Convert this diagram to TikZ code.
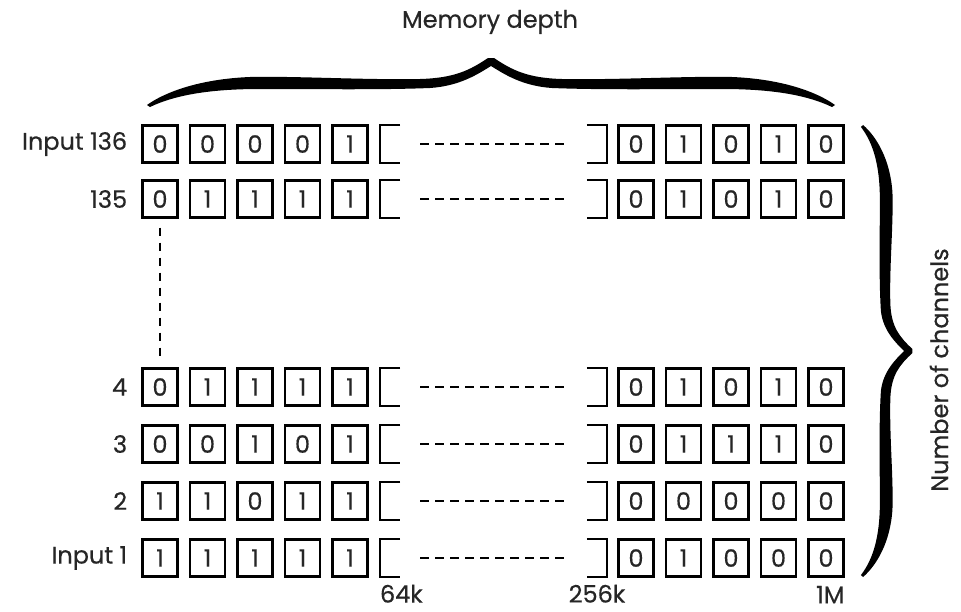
\documentclass[tikz,border=0pt]{standalone}
\usepackage{fontspec}
\setmainfont{Poppins}[FakeBold=0.5]
\usetikzlibrary{positioning}

\begin{document}
\begin{tikzpicture}[x=1pt,y=-1pt,
  every node/.style={inner sep=0pt,text=black!85,font=\fontsize{24}{28}\selectfont},
  bit/.style={draw=black,line width=2.3pt,minimum width=35pt,minimum height=37pt,font=\fontsize{24}{28}\selectfont},
  gapbox/.style={minimum width=20pt,minimum height=37pt},
  bracket/.style={line width=2.3pt},
  dots/.style={line width=2.6pt,dash pattern=on 9pt off 6pt},
  curly/.pic={
    \fill (-3,48) .. controls (-21,36) and (-36,28) .. (-71,27)
      .. controls (-131,26) and (-191,30) .. (-241,29)
      .. controls (-291,27) and (-326,14) .. (-344,1) -- (-341,-1)
      .. controls (-316,11) and (-281,17) .. (-231,17)
      .. controls (-171,17) and (-111,16) .. (-61,18)
      .. controls (-31,20) and (-13,32) .. (0,40)
      .. controls (13,32) and (31,20) .. (61,18)
      .. controls (111,16) and (171,17) .. (231,17)
      .. controls (281,17) and (316,11) .. (341,-1) -- (344,1)
      .. controls (326,14) and (291,27) .. (241,29)
      .. controls (191,30) and (131,26) .. (71,27)
      .. controls (36,28) and (21,36) .. (3,48) -- cycle;
  }]
\useasboundingbox (0,0) rectangle (961,611);

% rows of stored samples
\foreach \row/\yy/\lbl/\lbits/\rbits in {
    136/144/{Input 136}/{0,0,0,0,1}/{0,1,0,1,0},
    135/199/135/{0,1,1,1,1}/{0,1,0,1,0},
    4/387/4/{0,1,1,1,1}/{0,1,0,1,0},
    3/444/3/{0,0,1,0,1}/{0,1,1,1,0},
    2/501/2/{1,1,0,1,1}/{0,0,0,0,0},
    1/558/{Input 1}/{1,1,1,1,1}/{0,1,0,0,0}}{
  \foreach \b [count=\i] in \lbits
    \node[bit] (in\row-l\i) at ({160+47.5*(\i-1)},\yy) {\b};
  \foreach \b [count=\i] in \rbits
    \node[bit] (in\row-r\i) at ({636+47.5*(\i-1)},\yy) {\b};
  \node[left=14pt of in\row-l1] (in\row-name) {\lbl};
  \node[gapbox] (in\row-lb) at (390,\yy) {};
  \node[gapbox] (in\row-rb) at (597,\yy) {};
  \draw[bracket] (in\row-lb.north east) -- (in\row-lb.north west) -- (in\row-lb.south west) -- (in\row-lb.south east);
  \draw[bracket] (in\row-rb.north west) -- (in\row-rb.north east) -- (in\row-rb.south east) -- (in\row-rb.south west);
  \draw[dots] ([xshift=20pt]in\row-lb.east) -- ([xshift=-17pt]in\row-rb.west);
}
\draw[line width=2.2pt,dash pattern=on 8pt off 7pt] ([yshift=-9pt]in135-l1.south) -- ([yshift=9pt]in4-l1.north);

% depth marks
\node[anchor=west] (k64) at ([yshift=-17pt]in1-lb.south west) {64k};
\node (k256) at ([yshift=-17pt]in1-rb.south) {256k};
\node[anchor=east] (m1) at ([yshift=-17pt]in1-r5.south east) {1M};

% braces
\begin{scope}[shift={(491,106)},y={(0,1pt)}]
  \pic {curly};
\end{scope}
\begin{scope}[shift={(862,351)},x={(0,-0.657pt)},y={(1.05pt,0)}]
  \pic {curly};
\end{scope}
\node (depth) at (490,22) {Memory depth};
\node[rotate=90] (chan) at (939,370) {Number of channels};
\end{tikzpicture}
\end{document}
